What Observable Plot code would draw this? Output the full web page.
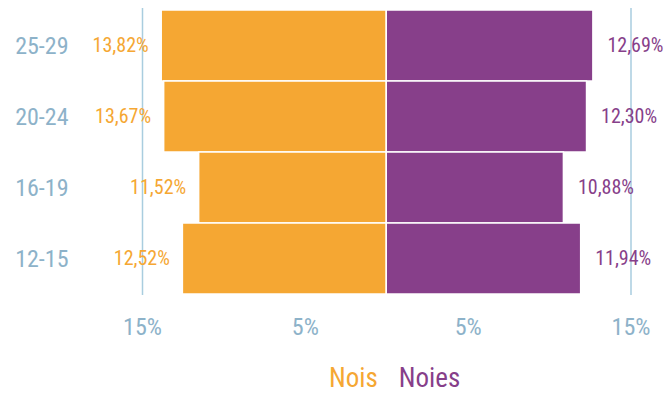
<!DOCTYPE html>
<html><head><meta charset="utf-8">
<script src="https://cdn.jsdelivr.net/npm/d3@7"></script>
<script src="https://cdn.jsdelivr.net/npm/@observablehq/plot@0.6"></script>
<style>
body{margin:0;background:#fff;font-family:"Roboto Condensed","DejaVu Sans Condensed",sans-serif;overflow:hidden;}
svg, svg text{font-family:"Roboto Condensed","DejaVu Sans Condensed",sans-serif !important;}
#legend{display:flex;gap:21px;padding-left:329px;font-size:27px;line-height:28px;height:28px;margin-top:14px;}
</style></head>
<body><div id="chart"></div>
<div id="legend"><span style="color:#f5a733">Nois</span><span style="color:#873f8a">Noies</span></div>
<script>
const ages = ["25-29","20-24","16-19","12-15"];
const nois = [13.82, 13.67, 11.52, 12.52];
const noies = [12.69, 12.30, 10.88, 11.94];
const ticks = [-15, -5, 5, 15];
const orange = "#f5a733", purple = "#873f8a", axisColor = "#8db2c9";

const fmt = v => v.toFixed(2).replace(".", ",") + "%";
const left = ages.map((a, i) => ({age: a, v: -nois[i], label: fmt(nois[i])}));
const right = ages.map((a, i) => ({age: a, v: noies[i], label: fmt(noies[i])}));

const chart = Plot.plot({
  width: 667, height: 350,
  marginLeft: 142, marginRight: 36.5, marginTop: 8, marginBottom: 55,
  style: {background: "#fff"},
  x: {domain: [-15, 15]},
  y: {domain: ages, padding: 0},
  marks: [
    Plot.ruleX([-15, 15], {stroke: "#a9cddf", strokeWidth: 1.5}),
    Plot.barX(left, {x: "v", y: "age", fill: orange, stroke: "#fff", strokeWidth: 1.5}),
    Plot.barX(right, {x: "v", y: "age", fill: purple, stroke: "#fff", strokeWidth: 1.5}),
    Plot.text(left, {x: "v", y: "age", text: "label", textAnchor: "end", dx: -13, fill: orange, fontSize: 20}),
    Plot.text(right, {x: "v", y: "age", text: "label", textAnchor: "start", dx: 14, fill: purple, fontSize: 20}),
    Plot.axisX(ticks, {tickSize: 0, tickPadding: 22, tickFormat: d => Math.abs(d) + "%", fontSize: 24, color: axisColor, label: null}),
    Plot.axisY({tickSize: 0, tickPadding: 74, fontSize: 24, color: axisColor, label: null})
  ]
});
document.getElementById("chart").appendChild(chart);
</script></body></html>
